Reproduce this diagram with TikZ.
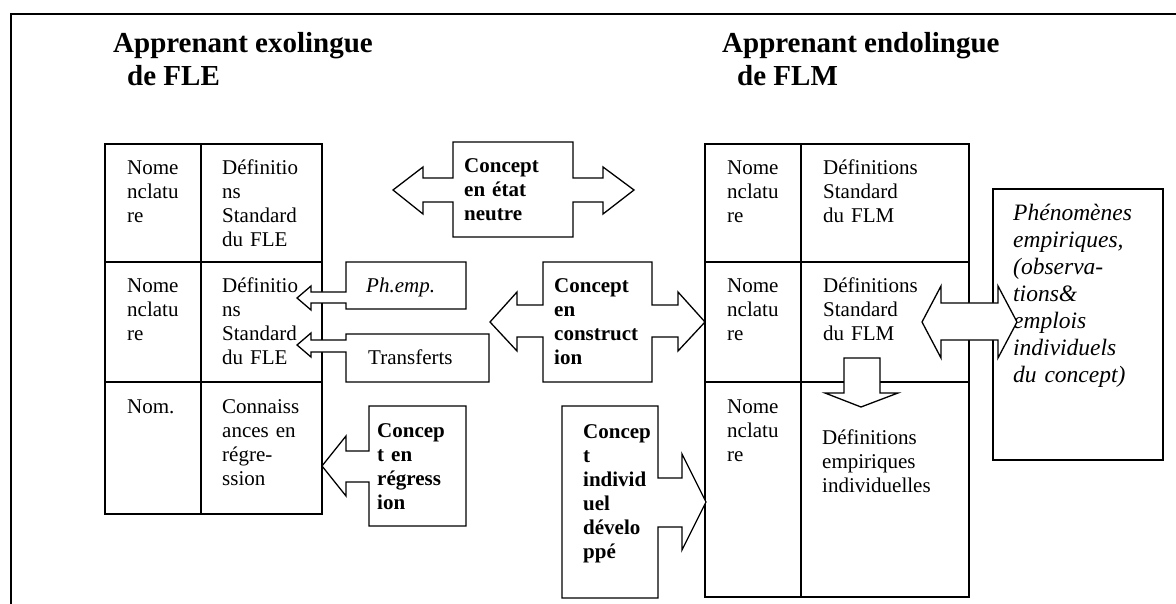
\documentclass[tikz,border=0pt]{standalone}
\usepackage{fontspec}
\setmainfont{Liberation Serif}
\begin{document}
\begin{tikzpicture}[x=1pt,y=-1pt,line join=miter,
  ln/.style={line width=1.3pt},
  shp/.style={draw,line width=1.3pt,fill=white},
  body/.style={inner sep=0pt,anchor=base west,text width=160pt,align=left,font=\fontsize{21}{24}\selectfont},
  bbody/.style={body,font=\fontsize{21}{24}\selectfont\bfseries},
  ibody/.style={body,font=\fontsize{21}{24}\selectfont\itshape},
  phen/.style={body,font=\fontsize{23.5}{27}\selectfont\itshape},
  ttl/.style={inner sep=0pt,anchor=base west,font=\fontsize{29}{33}\selectfont\bfseries}]
\useasboundingbox (0,0) rectangle (1176,604);
% frame
\draw[line width=2pt] (11,604) -- (11,14) -- (1176,14);
% titles
\node[ttl] (t1a) at (113,53) {Apprenant exolingue};
\node[ttl] (t1b) at (127,86) {de FLE};
\node[ttl] (t2a) at (722,53) {Apprenant endolingue};
\node[ttl] (t2b) at (737,86) {de FLM};
% left table
\draw[ln] (105,144) rectangle (322,514);
\draw[ln] (201,144) -- (201,514);
\draw[ln] (105,262) -- (322,262);
\draw[ln] (105,382) -- (322,382);
\node[body] (l11) at (127,175) {Nome\\nclatu\\re};
\node[body] (l12) at (222,175) {Définitio\\ns\\Standard\\du FLE};
\node[body] (l21) at (127,293) {Nome\\nclatu\\re};
\node[body] (l22) at (222,293) {Définitio\\ns\\Standard\\du FLE};
\node[body] (l31) at (127,413) {Nom.};
\node[body] (l32) at (222,413) {Connaiss\\ances en\\régre-\\ssion};
% right table
\draw[ln] (705,144) rectangle (969,597);
\draw[ln] (801,144) -- (801,597);
\draw[ln] (705,262) -- (969,262);
\draw[ln] (705,382) -- (969,382);
\node[body] (r11) at (727,175) {Nome\\nclatu\\re};
\node[body] (r12) at (823,175) {Définitions\\Standard\\du FLM};
\node[body] (r21) at (727,293) {Nome\\nclatu\\re};
\node[body] (r22) at (823,293) {Définitions\\Standard\\du FLM};
\node[body] (r31) at (727,413) {Nome\\nclatu\\re};
\node[body] (r32) at (822,444) {Définitions\\empiriques\\individuelles};
% phenomenes box
\draw[ln] (993,189) rectangle (1163,460);
\node[phen] (ph) at (1013,221) {Phénomènes\\empiriques,\\(observa-\\tions\&\\emplois\\individuels\\du concept)};
% concept en etat neutre
\draw[shp] (453,142) -- (573,142) -- (573,178) -- (603,178) -- (603,167) -- (634,190) -- (603,214) -- (603,202) -- (573,202) -- (573,237) -- (453,237) -- (453,202) -- (423,202) -- (423,214) -- (393,190) -- (423,167) -- (423,178) -- (453,178) -- cycle;
\node[bbody] (cn) at (464,173) {Concept\\en état\\neutre};
% concept en construction
\draw[shp] (543,262) -- (652,262) -- (652,305) -- (678,305) -- (678,292) -- (705,322) -- (678,351) -- (678,337) -- (652,337) -- (652,382) -- (543,382) -- (543,337) -- (517,337) -- (517,351) -- (490,322) -- (517,292) -- (517,305) -- (543,305) -- cycle;
\node[bbody] (cc) at (554,293) {Concept\\en\\construct\\ion};
% Ph.emp.
\draw[shp] (346,262) -- (466,262) -- (466,309) -- (346,309) -- (346,303) -- (311,303) -- (311,310) -- (297,298) -- (311,286) -- (311,292) -- (346,292) -- cycle;
\node[ibody] (pe) at (366,293) {Ph.emp.};
% Transferts
\draw[shp] (346,334) -- (489,334) -- (489,382) -- (346,382) -- (346,352) -- (311,352) -- (311,357) -- (297,345) -- (311,333) -- (311,340) -- (346,340) -- cycle;
\node[body] (tr) at (368,364) {Transferts};
% concept en regression
\draw[shp] (369,406) -- (466,406) -- (466,526) -- (369,526) -- (369,482) -- (346,482) -- (346,496) -- (322,466) -- (346,436) -- (346,451) -- (369,451) -- cycle;
\node[bbody] (cr) at (377,437) {Concep\\t en\\régress\\ion};
% concept individuel developpe
\draw[shp] (562,406) -- (658,406) -- (658,478) -- (682,478) -- (682,454) -- (706,502) -- (682,550) -- (682,527) -- (658,527) -- (658,598) -- (562,598) -- cycle;
\node[bbody] (ci) at (583,438) {Concep\\t\\individ\\uel\\dévelo\\ppé};
% double arrow right
\draw[shp] (922,322) -- (941,286) -- (941,303) -- (998,303) -- (998,286) -- (1017,322) -- (998,358) -- (998,340) -- (941,340) -- (941,358) -- cycle;
% down arrow
\draw[shp] (844,358) -- (880,358) -- (880,393) -- (898,393) -- (861,407) -- (825,393) -- (844,393) -- cycle;
\end{tikzpicture}
\end{document}
